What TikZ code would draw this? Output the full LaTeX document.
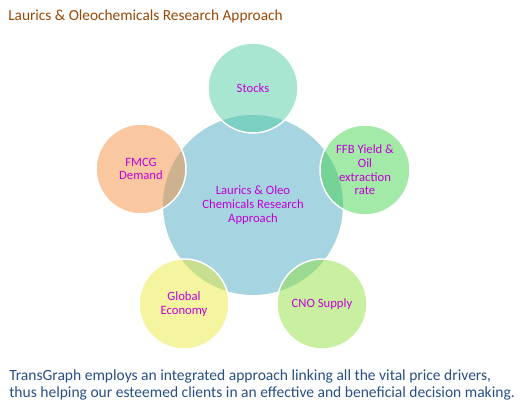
\documentclass[tikz,border=0pt]{standalone}
\usepackage{fontspec}
\setmainfont{Carlito}
\usetikzlibrary{positioning, calc}
\usepackage{xcolor}
% Colours
\definecolor{hubBlue}{RGB}{166,212,224}
\definecolor{drvMint}{RGB}{81,205,165}
\definecolor{drvGreen}{RGB}{71,211,79}
\definecolor{drvLime}{RGB}{145,225,65}
\definecolor{drvYellow}{RGB}{235,235,65}
\definecolor{drvOrange}{RGB}{245,145,65}
\definecolor{lblPink}{RGB}{195,0,215}
\definecolor{titleBrown}{RGB}{152,72,7}
\definecolor{noteBlue}{RGB}{40,78,132}
\tikzset{
    % Shapes
    hub/.style={circle, fill=hubBlue, minimum size=135pt, inner sep=0pt,
                align=center, text=lblPink, font=\fontsize{9.5}{10.5}\selectfont},
    driver/.style={circle, draw=white, line width=1.1pt, fill opacity=0.5, text opacity=1,
                   minimum size=67.5pt, inner sep=0pt, align=center, text=lblPink,
                   font=\fontsize{9.5}{10.2}\selectfont},
    % Texts
    title/.style={anchor=base west, inner sep=0pt, text=titleBrown, font=\fontsize{11.5}{13}\selectfont},
    note/.style={anchor=north west, inner sep=0pt, align=left, text=noteBlue,
                 font=\fontsize{11.65}{13}\selectfont}
}
\begin{document}
\begin{tikzpicture}[x=0.75pt, y=-0.75pt]
\useasboundingbox (0,0) rectangle (520,414);

\node[hub] (core) at (253,205) {Laurics \& Oleo\\Chemicals Research\\Approach};

\node[driver, fill=drvMint] (stocks) at (253,88) {Stocks};
\node[driver, fill=drvGreen] (ffb) at (365,170) {FFB Yield \&\\Oil\\extraction\\rate};
\node[driver, fill=drvLime] (cno) at (322,304) {CNO Supply};
\node[driver, fill=drvYellow] (global) at (184,304) {Global\\Economy};
\node[driver, fill=drvOrange] (fmcg) at (141,169) {FMCG\\Demand};

\node[title] (head) at (8,20) {Laurics \& Oleochemicals Research Approach};
\node[note] (foot) at (9,369) {TransGraph employs an integrated approach linking all the vital price drivers,\\thus helping our esteemed clients in an effective and beneficial decision making.};

\end{tikzpicture}
\end{document}
